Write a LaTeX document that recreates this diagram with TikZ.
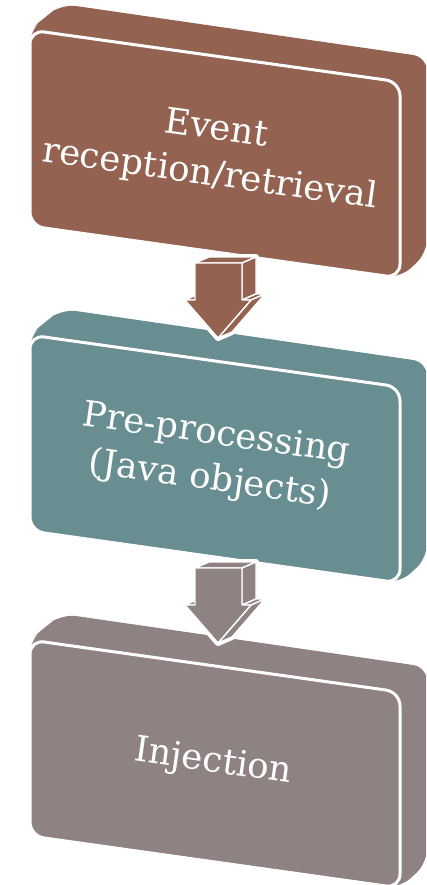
\documentclass[tikz,border=0pt]{standalone}
\usepackage{fontspec}
\setmainfont{DejaVu Serif}
\definecolor{cBrown}{HTML}{936250}
\definecolor{cTeal}{HTML}{688E91}
\definecolor{cGray}{HTML}{8E8282}
\tikzset{
  frontface/.style={draw=white, line width=3pt, rounded corners=14pt},
  hullface/.style={rounded corners=14pt},
  boxtext/.style={text=white, font=\fontsize{35.5}{46}\selectfont, align=center, rotate=-8, inner sep=0pt},
  arrface/.style={draw=white, line width=1.4pt, line join=round},
  arrhalo/.style={draw=white, fill=white, line width=6pt, line join=round}
}
\newcommand\drawblock[4]{%
  \fill[#2, hullface] (30,30+#1) -- (44,18+#1) -- (62,4+#1) -- (427,57+#1) -- (427,253+#1) -- (400,278+#1) -- (30,226+#1) -- cycle;
  \draw[frontface, fill=#2] (30,30+#1) -- (400,82+#1) -- (400,278+#1) -- (30,226+#1) -- cycle;
  \node[boxtext] (#3) at (213,153+#1) {#4};
}
\newcommand\drawarrow[2]{%
  \draw[arrhalo] (195,263+#1) -- (209,257+#1) -- (256,257+#1) -- (256,294+#1) -- (265,294+#1) -- (232,332+#1) -- (218,338+#1) -- (185,300+#1) -- (195,300+#1) -- cycle;
  \draw[arrface, fill=#2] (209,257+#1) -- (256,257+#1) -- (256,294+#1) -- (265,294+#1) -- (232,332+#1) -- (199,294+#1) -- (209,294+#1) -- cycle;
  \draw[arrface, fill=#2] (195,263+#1) -- (242,263+#1) -- (256,257+#1) -- (209,257+#1) -- cycle;
  \draw[arrface, fill=#2] (242,263+#1) -- (242,300+#1) -- (256,294+#1) -- (256,257+#1) -- cycle;
  \draw[arrface, fill=#2] (242,300+#1) -- (251,300+#1) -- (265,294+#1) -- (256,294+#1) -- cycle;
  \draw[arrface, fill=#2] (251,300+#1) -- (218,338+#1) -- (232,332+#1) -- (265,294+#1) -- cycle;
  \draw[arrface, fill=#2] (185,300+#1) -- (195,300+#1) -- (209,294+#1) -- (199,294+#1) -- cycle;
  \draw[arrface, fill=#2] (195,263+#1) -- (242,263+#1) -- (242,300+#1) -- (251,300+#1) -- (218,338+#1) -- (185,300+#1) -- (195,300+#1) -- cycle;
}
\begin{document}
\begin{tikzpicture}[x=1pt, y=-1pt]
  \useasboundingbox[fill=white] (0,0) rectangle (426,885);
  \begin{scope}
    \clip (0,0) rectangle (426,885);
    \drawblock{0}{cBrown}{b1}{Event\\reception/retrieval}
    \drawblock{305}{cTeal}{b2}{Pre-processing\\(Java objects)}
    \drawblock{610}{cGray}{b3}{Injection}
    \drawarrow{0}{cBrown}
    \drawarrow{305}{cGray}
  \end{scope}
\end{tikzpicture}
\end{document}
